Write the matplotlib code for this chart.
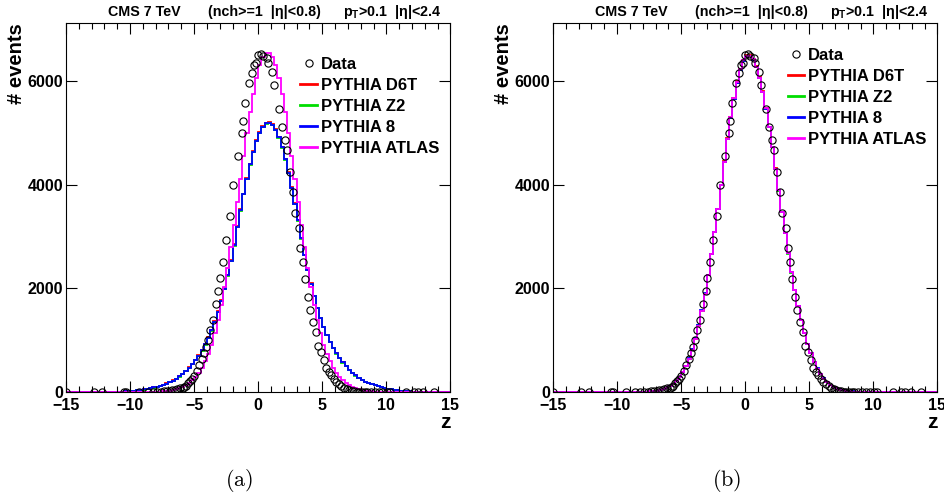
import numpy as np
import matplotlib.pyplot as plt
from matplotlib.lines import Line2D
from matplotlib.ticker import MultipleLocator

plt.rcParams['font.family'] = ['Liberation Sans', 'DejaVu Sans']
plt.rcParams['font.weight'] = 'bold'
plt.rcParams['axes.labelweight'] = 'bold'
plt.rcParams['mathtext.fontset'] = 'custom'
plt.rcParams['mathtext.bf'] = 'Liberation Sans:bold'
plt.rcParams['mathtext.rm'] = 'Liberation Sans:bold'

# histogram binning in z
z_edges = np.linspace(-15, 15, 121)

# data points (same in both panels)
data_z = [-15.0, -12.8, -12.2, -10.5, -10.3, -9.3, -8.6, -8.2, -7.9, -7.6,
          -7.35, -7.1, -6.9, -6.7, -6.5, -6.3, -6.1, -5.9, -5.75, -5.6,
          -5.45, -5.3, -5.15, -5.0, -4.8, -4.6, -4.4, -4.2, -4.05, -3.9,
          -3.75, -3.55, -3.3, -3.1, -2.95, -2.75, -2.5, -2.2, -1.95, -1.6,
          -1.3, -1.15, -1.0, -0.75, -0.5, -0.35, -0.2, -0.05, 0.2, 0.35,
          0.65, 0.8, 1.05, 1.2, 1.65, 1.85, 2.1, 2.25, 2.5, 2.75,
          2.9, 3.15, 3.3, 3.5, 3.65, 3.9, 4.05, 4.25, 4.5, 4.7,
          4.9, 5.1, 5.3, 5.5, 5.7, 5.9, 6.1, 6.3, 6.5, 6.7,
          6.9, 7.1, 7.3, 7.5, 7.7, 7.9, 8.1, 8.3, 8.5, 8.8,
          9.1, 9.4, 9.7, 10.05, 10.3, 11.5, 12.15, 12.5, 12.9, 13.7]
data_n = [0, 0, 0, 0, 0, 1, 2, 3, 5, 8,
          12, 18, 24, 32, 42, 52, 68, 86, 104, 125,
          165, 205, 250, 305, 400, 520, 640, 760, 860, 1010,
          1190, 1380, 1690, 1940, 2200, 2500, 2930, 3400, 4000, 4550,
          5000, 5220, 5570, 5960, 6150, 6310, 6340, 6500, 6530, 6480,
          6440, 6340, 6180, 5930, 5460, 5110, 4860, 4670, 4250, 3850,
          3450, 3160, 2770, 2500, 2180, 1840, 1580, 1360, 1160, 880,
          780, 620, 470, 380, 320, 260, 195, 150, 110, 75,
          50, 32, 20, 13, 8, 5, 3, 2, 1, 1,
          0, 0, 0, 0, 0, 0, 0, 0, 0, 0]

# panel (a): default tunes
d6t_a = [0, 0, 0, 0, 0, 0, 1, 1, 1, 2, 2, 3, 3, 4, 4, 5, 7, 8, 10,
         13, 17, 24, 31, 40, 50, 61, 74, 89, 104, 122, 143, 166, 192, 222, 259, 305, 354, 412, 476,
         548, 625, 712, 812, 928, 1058, 1203, 1370, 1556, 1772, 2012, 2266, 2548, 2852, 3202, 3522,
         3830, 4128, 4400, 4650, 4860, 5020, 5135, 5200,
         5210, 5165, 5072, 4925, 4736, 4502, 4240, 3952, 3640, 3320, 2970, 2650, 2362, 2095, 1852,
         1626, 1428, 1255, 1103, 970, 851, 745, 652, 572, 500, 433, 374, 321, 275, 234, 201, 175,
         151, 130, 111, 95, 81, 67, 55, 44, 35, 26, 20, 15, 12, 9, 7, 6, 5, 4, 3, 3, 2, 2, 1, 1, 1]
z2_a = [0, 0, 0, 0, 0, 0, 0, 1, 1, 1, 1, 2, 2, 3, 4, 5, 6, 7, 9,
        12, 16, 22, 29, 38, 48, 59, 72, 86, 101, 119, 139, 162, 187, 216, 254, 297, 347, 404, 467,
        538, 614, 700, 800, 914, 1040, 1184, 1349, 1538, 1752, 1990, 2240, 2520, 2826, 3178, 3498,
        3812, 4110, 4386, 4630, 4836, 5000, 5115, 5180,
        5190, 5148, 5050, 4905, 4716, 4486, 4220, 3935, 3625, 3306, 2960, 2642, 2352, 2088, 1846,
        1620, 1422, 1250, 1098, 965, 846, 740, 648, 568, 496, 429, 370, 317, 271, 231, 198, 172,
        148, 127, 108, 92, 78, 64, 52, 41, 33, 24, 18, 13, 10, 8, 7, 5, 4, 4, 3, 2, 2, 1, 1, 1, 0]
p8_a = [0, 0, 0, 0, 0, 0, 0, 1, 1, 1, 2, 2, 3, 3, 4, 5, 6, 8, 10,
        12, 17, 23, 30, 39, 49, 60, 73, 87, 102, 120, 140, 163, 188, 218, 256, 300, 350, 407, 470,
        541, 617, 704, 805, 919, 1045, 1189, 1354, 1541, 1756, 1995, 2248, 2529, 2833, 3185, 3506,
        3818, 4117, 4391, 4636, 4843, 5007, 5122, 5187,
        5198, 5154, 5058, 4914, 4724, 4492, 4228, 3941, 3632, 3313, 2965, 2647, 2358, 2092, 1850,
        1624, 1426, 1253, 1101, 968, 849, 743, 650, 570, 498, 431, 372, 319, 273, 232, 199, 173,
        149, 128, 109, 93, 79, 65, 53, 42, 34, 25, 19, 14, 11, 9, 7, 6, 5, 4, 3, 3, 2, 2, 1, 1, 1]
atlas_a = [0, 0, 0, 0, 0, 0, 0, 0, 0, 0, 0, 0, 0, 0, 0, 0, 0, 0, 0, 0, 0, 0, 0, 0, 0,
           1, 2, 3, 5, 8, 12, 18, 26, 36, 50, 70, 95, 128, 170, 225, 290, 370, 470, 590, 740,
           908, 1131, 1391, 1688, 2022, 2392, 2793, 3219, 3663, 4114, 4562, 4994, 5396, 5756,
           6061, 6301, 6466, 6549,
           6549, 6466, 6301, 6061, 5756, 5396, 4994, 4562, 4114, 3663, 3219, 2793, 2392, 2022,
           1688, 1391, 1131, 908, 740, 590, 470, 370, 290, 225, 170, 128, 95, 70, 50, 36, 26, 18,
           12, 8, 5, 3, 2, 1,
           0, 0, 0, 0, 0, 0, 0, 0, 0, 0, 0, 0, 0, 0, 0, 0, 0, 0, 0]

# panel (b): tuned
d6t_b = [0, 0, 0, 0, 0, 0, 0, 0, 0, 0, 0, 0, 0, 0, 0, 0, 0, 0, 0, 0, 0, 0, 0, 1,
         1, 1, 2, 3, 5, 8, 12, 18, 26, 38, 55, 79, 110, 153, 210, 284, 378, 495, 640, 818,
         1030, 1278, 1565, 1892, 2258, 2655, 3082, 3530, 3985, 4450, 4892, 5310, 5680, 5995,
         6240, 6410, 6500,
         6500, 6425, 6282, 6070, 5800, 5480, 5118, 4726, 4315, 3896, 3478, 3068, 2676, 2310,
         1970, 1662, 1386, 1143, 932, 751, 582, 452, 347, 262, 191, 141, 101, 71, 49, 32, 21,
         14, 9, 6, 4, 2, 1, 1, 1,
         0, 0, 0, 0, 0, 0, 0, 0, 0, 0, 0, 0, 0, 0, 0, 0, 0, 0, 0, 0]
z2_b = [0, 0, 0, 0, 0, 0, 0, 0, 0, 0, 0, 0, 0, 0, 0, 0, 0, 0, 0, 0, 0, 0, 0, 0,
        1, 1, 2, 3, 5, 8, 12, 18, 27, 39, 56, 80, 112, 155, 213, 288, 382, 500, 646, 824,
        1036, 1286, 1572, 1898, 2262, 2660, 3088, 3534, 3990, 4440, 4878, 5285, 5650, 5965,
        6220, 6395, 6482,
        6485, 6410, 6268, 6058, 5790, 5470, 5108, 4718, 4306, 3888, 3470, 3062, 2672, 2304,
        1964, 1656, 1380, 1138, 928, 746, 578, 448, 343, 259, 189, 139, 99, 69, 47, 31, 20,
        13, 9, 6, 4, 2, 1, 1,
        0, 0, 0, 0, 0, 0, 0, 0, 0, 0, 0, 0, 0, 0, 0, 0, 0, 0, 0, 0, 0]
p8_b = [0, 0, 0, 0, 0, 0, 0, 0, 0, 0, 0, 0, 0, 0, 0, 0, 0, 0, 0, 0, 0, 0, 0, 1,
        1, 2, 2, 4, 6, 9, 13, 19, 28, 40, 57, 82, 114, 158, 215, 290, 384, 502, 648, 826,
        1038, 1288, 1575, 1902, 2266, 2662, 3090, 3536, 3990, 4446, 4880, 5290, 5655, 5970,
        6215, 6390, 6470,
        6480, 6405, 6262, 6050, 5785, 5468, 5110, 4720, 4310, 3893, 3476, 3070, 2680, 2314,
        1975, 1667, 1390, 1147, 935, 754, 584, 454, 348, 263, 192, 142, 102, 72, 50, 33, 22,
        15, 10, 6, 4, 3, 2, 1, 1,
        0, 0, 0, 0, 0, 0, 0, 0, 0, 0, 0, 0, 0, 0, 0, 0, 0, 0, 0, 0]
atlas_b = [0, 0, 0, 0, 0, 0, 0, 0, 0, 0, 0, 0, 0, 0, 0, 0, 0, 0, 0, 0, 0, 0, 0, 0,
           1, 1, 2, 3, 5, 8, 12, 18, 27, 39, 56, 80, 112, 155, 212, 286, 380, 497, 643, 820,
           1032, 1281, 1569, 1896, 2261, 2658, 3085, 3532, 3988, 4444, 4885, 5298, 5668, 5983,
           6231, 6402, 6489,
           6491, 6417, 6273, 6063, 5793, 5474, 5113, 4722, 4311, 3892, 3474, 3066, 2675, 2308,
           1968, 1660, 1384, 1141, 930, 749, 580, 450, 345, 260, 190, 140, 100, 70, 48, 32, 21,
           14, 9, 6, 4, 2, 1, 1,
           0, 0, 0, 0, 0, 0, 0, 0, 0, 0, 0, 0, 0, 0, 0, 0, 0, 0, 0, 0, 0]

mc_labels = ['PYTHIA D6T', 'PYTHIA Z2', 'PYTHIA 8', 'PYTHIA ATLAS']
mc_colors = ['#ff0000', '#00dd00', '#0000ff', '#ff00ff']
panels = [
    ('(a)', [d6t_a, z2_a, p8_a, atlas_a], 0.0698, 0.908, 0.2529),
    ('(b)', [d6t_b, z2_b, p8_b, atlas_b], 0.5852, 0.932, 0.7690),
]

fig = plt.figure(figsize=(9.45, 5.0), dpi=100)

for tag, series, left, leg_top, cap_x in panels:
    ax = fig.add_axes([left, 0.216, 0.4068, 0.738])
    for vals, col in zip(series, mc_colors):
        ax.stairs(vals, z_edges, color=col, lw=1.3, baseline=None)
    ax.plot(data_z, data_n, ls='none', marker='o', ms=5.2, mfc='none',
            mec='black', mew=0.8)

    ax.set_xlim(-15, 15)
    ax.set_ylim(0, 7120)
    ax.set_xticks([-15, -10, -5, 0, 5, 10, 15])
    ax.xaxis.set_minor_locator(MultipleLocator(1))
    ax.set_yticks([0, 2000, 4000, 6000])
    ax.tick_params(which='both', direction='in', top=True, right=True,
                   labelsize=11.5)
    ax.tick_params(axis='x', pad=4)
    ax.tick_params(axis='y', pad=2)
    ax.tick_params(which='major', length=8, width=0.8)
    ax.tick_params(which='minor', length=4, width=0.8)
    for s in ax.spines.values():
        s.set_linewidth(0.8)

    ax.set_ylabel('# events', fontsize=14.5, loc='top', labelpad=1)
    ax.set_xlabel('z', fontsize=15, loc='right', labelpad=0)

    ax.text(0.109, 1.019, 'CMS 7 TeV', transform=ax.transAxes, fontsize=10.3,
            va='baseline')
    ax.text(0.37, 1.019, '(nch>=1  |η|<0.8)', transform=ax.transAxes,
            fontsize=10.3, va='baseline')
    ax.text(0.721, 1.019, r'p$_{\mathbf{T}}$>0.1  |η|<2.4',
            transform=ax.transAxes, fontsize=10.3, va='baseline')

    handles = [Line2D([], [], ls='none', marker='o', ms=5.2, mfc='none',
                      mec='black', mew=0.8)]
    handles += [Line2D([], [], color=c, lw=2) for c in mc_colors]
    ax.legend(handles, ['Data'] + mc_labels, loc='upper left',
              bbox_to_anchor=(0.61, leg_top), frameon=False, fontsize=12,
              handlelength=1.0, handletextpad=0.25, labelspacing=0.36,
              borderpad=0, borderaxespad=0)

    fig.text(cap_x, 0.038, r'$\mathrm{' + tag + '}$', math_fontfamily='cm',
             fontsize=16, ha='center', va='center')

fig.savefig('out.png', dpi=100)
